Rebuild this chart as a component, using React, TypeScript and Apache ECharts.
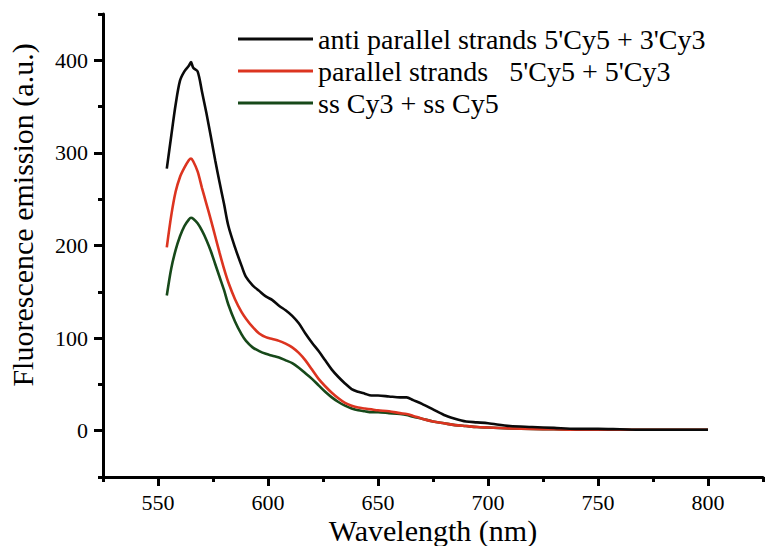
import React, { useEffect, useRef } from "react";
import * as echarts from "echarts";

const wavelengths = [
  554, 556, 558, 560, 562, 564, 565, 566, 568, 570, 572, 574, 576, 578, 580,
  582, 585, 588, 590, 593, 596, 599, 602, 605, 608, 611, 614, 617, 620, 623,
  626, 629, 632, 635, 638, 641, 644, 647, 650, 655, 660, 663, 666, 670, 675,
  680, 685, 690, 695, 700, 710, 720, 730, 740, 750, 760, 770, 780, 790, 800,
];

const antiParallel = [
  283, 318, 352, 378, 388, 394, 398, 392, 388, 366, 343, 318, 292, 268, 245,
  221, 198, 178, 166, 157, 151, 145, 141, 135, 130, 124, 116, 105, 95, 86,
  76, 66, 58, 51, 45, 42, 40, 38, 38, 37, 36, 36, 33, 29, 23,
  17, 13, 10, 9, 8, 5, 4, 3, 2, 2, 1.5, 1, 1, 1, 1,
];

const parallel = [
  198, 232, 258, 274, 284, 292, 294, 291, 280, 262, 245, 228, 210, 192, 175,
  160, 142, 128, 121, 112, 105, 101, 99, 97, 94, 90, 84, 76, 66, 56,
  48, 41, 35, 30, 27, 25, 24, 23, 22, 21, 19, 18, 16, 13, 10,
  8, 6, 5, 4, 3.5, 2.5, 2, 1.5, 1, 1, 1, 1, 1, 1, 1,
];

const singleStrand = [
  146, 175, 195, 210, 221, 228, 230, 229, 224, 216, 206, 194, 180, 166, 152,
  136, 118, 104, 97, 90, 86, 83, 81, 79, 76, 73, 68, 62, 56, 49,
  42, 36, 31, 27, 24, 22, 21, 20, 20, 19, 18, 17, 15, 13, 10,
  8, 6, 5, 4, 3.5, 2.5, 2, 1.5, 1, 1, 1, 1, 1, 1, 1,
];

const seriesNames = [
  "anti parallel strands 5'Cy5 + 3'Cy3",
  "parallel strands   5'Cy5 + 5'Cy3",
  "ss Cy3 + ss Cy5",
];

const xMajorTicks = [550, 600, 650, 700, 750, 800];
const xMinorTicks = [525, 575, 625, 675, 725, 775, 825];
const yMajorTicks = [0, 100, 200, 300, 400];
const yMinorTicks = [-50, 50, 150, 250, 350, 450];

const xTitle = "Wavelength (nm)";
const yTitle = "Fluorescence emission (a.u.)";

const FONT = "Liberation Serif";

export default function App() {
  const ref = useRef<HTMLDivElement>(null);

  useEffect(() => {
    if (!ref.current) return;
    const chart = echarts.init(ref.current, undefined, { renderer: "svg" });
    const toPairs = (vals: number[]) => wavelengths.map((w, i) => [w, vals[i]]);
    const colors = ["#0a0a0a", "#dc3420", "#17491a"];
    const lists = [antiParallel, parallel, singleStrand];

    const axisLineStyle = { color: "#000", width: 3 };

    chart.setOption({
      animation: false,
      backgroundColor: "#fff",
      textStyle: { fontFamily: FONT },
      grid: {
        left: 103,
        right: 9,
        top: 14,
        bottom: 69,
        containLabel: false,
        outerBoundsMode: "none",
      },
      legend: {
        orient: "vertical",
        left: 233,
        top: 20,
        itemWidth: 75,
        itemHeight: 14,
        itemGap: 4,
        data: seriesNames.map((n, i) => ({
          name: n,
          icon: "path://M0,0 L72,0 L72,3 L0,3 Z",
          itemStyle: { color: colors[i] },
        })),
        textStyle: { fontFamily: FONT, fontSize: 28, color: "#000" },
        selectedMode: false,
      },
      xAxis: [
        {
          type: "value",
          min: 525,
          max: 825,
          interval: 25,
          position: "bottom",
          axisLine: { show: true, onZero: false, lineStyle: axisLineStyle },
          axisTick: {
            show: true,
            customValues: xMajorTicks,
            length: 9,
            lineStyle: { color: "#000", width: 3 },
          },
          axisLabel: {
            show: true,
            customValues: xMajorTicks,
            margin: 14,
            fontFamily: FONT,
            fontSize: 22,
            color: "#000",
          },
          splitLine: { show: false },
        },
        {
          type: "value",
          min: 525,
          max: 825,
          interval: 25,
          position: "bottom",
          axisLine: { show: false, onZero: false },
          axisTick: {
            show: true,
            customValues: xMinorTicks,
            length: 5,
            lineStyle: { color: "#000", width: 3 },
          },
          axisLabel: { show: false },
          splitLine: { show: false },
        },
      ],
      yAxis: [
        {
          type: "value",
          min: -50,
          max: 450,
          interval: 50,
          position: "left",
          axisLine: { show: true, onZero: false, lineStyle: axisLineStyle },
          axisTick: {
            show: true,
            customValues: yMajorTicks,
            length: 9,
            lineStyle: { color: "#000", width: 3 },
          },
          axisLabel: {
            show: true,
            customValues: yMajorTicks,
            margin: 15,
            fontFamily: FONT,
            fontSize: 22,
            color: "#000",
          },
          splitLine: { show: false },
        },
        {
          type: "value",
          min: -50,
          max: 450,
          interval: 50,
          position: "left",
          axisLine: { show: false, onZero: false },
          axisTick: {
            show: true,
            customValues: yMinorTicks,
            length: 5,
            lineStyle: { color: "#000", width: 3 },
          },
          axisLabel: { show: false },
          splitLine: { show: false },
        },
      ],
      graphic: [
        {
          type: "text",
          x: 433,
          y: 530,
          style: {
            text: xTitle,
            fontFamily: FONT,
            fontSize: 30,
            fill: "#000",
            align: "center",
            verticalAlign: "middle",
          },
        },
        {
          type: "text",
          x: 22,
          y: 215,
          rotation: Math.PI / 2,
          style: {
            text: yTitle,
            fontFamily: FONT,
            fontSize: 30,
            fill: "#000",
            align: "center",
            verticalAlign: "middle",
          },
        },
      ],
      series: lists.map((vals, i) => ({
        name: seriesNames[i],
        type: "line",
        xAxisIndex: 0,
        yAxisIndex: 0,
        data: toPairs(vals),
        symbol: "none",
        smooth: 0.3,
        lineStyle: { color: colors[i], width: 2.6 },
        itemStyle: { color: colors[i] },
        z: 3 - i,
      })),
    });

    return () => chart.dispose();
  }, []);

  return (
    <div
      ref={ref}
      style={{ position: "fixed", left: 0, top: 0, width: 772, height: 546 }}
    />
  );
}
